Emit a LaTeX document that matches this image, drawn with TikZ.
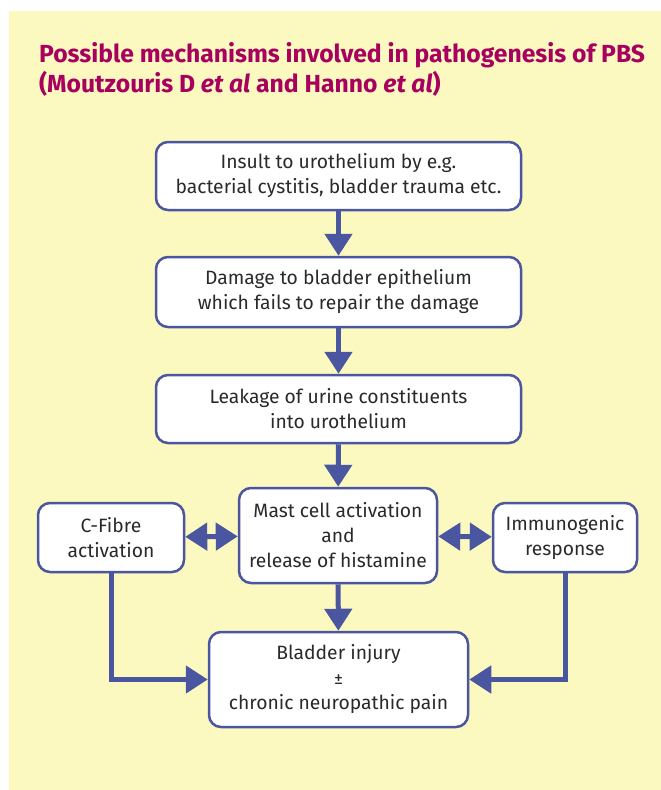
\documentclass[tikz,border=0pt]{standalone}
\usepackage{fontspec}
\setmainfont{Fira Sans}
\usetikzlibrary{arrows.meta}
\definecolor{bgyellow}{HTML}{FCF9C0}
\definecolor{boxblue}{HTML}{4B56A0}
\definecolor{titlepink}{HTML}{A8005F}
\definecolor{txt}{HTML}{2B2A29}
\tikzset{
  flowbox/.style={draw=boxblue, line width=2.5pt, fill=white, rounded corners=12pt,
    align=center, text=txt, font=\fontsize{19.3}{25}\selectfont, inner sep=0pt},
  flowarrow/.style={draw=boxblue, line width=5pt, -{Triangle[length=22pt,width=27pt]}},
  botharrow/.style={draw=boxblue, line width=5pt, {Triangle[length=22pt,width=27pt]}-{Triangle[length=22pt,width=27pt]}},
  titletext/.style={anchor=base west, text=titlepink, font=\fontsize{24.7}{29}\selectfont\bfseries, inner sep=0pt}
}
\begin{document}
\begin{tikzpicture}[x=1pt,y=-1pt]
\useasboundingbox (0,0) rectangle (661,790);
\fill[bgyellow] (9,11) rectangle (661,790);
\node[titletext] (t1) at (39,62) {Possible mechanisms involved in pathogenesis of PBS};
\node[titletext] (t2) at (39,92) {(Moutzouris D \textit{et al} and Hanno \textit{et al})};

\node[flowbox, minimum width=365pt, minimum height=68pt] (b1) at (338.5,176) {Insult to urothelium by e.g.\\bacterial cystitis, bladder trauma etc.};
\node[flowbox, minimum width=365pt, minimum height=70pt] (b2) at (338.5,292) {Damage to bladder epithelium\\which fails to repair the damage};
\node[flowbox, minimum width=365pt, minimum height=68pt] (b3) at (338.5,409) {Leakage of urine constituents\\into urothelium};
\node[flowbox, minimum width=198pt, minimum height=95pt] (b4) at (338,535.5) {Mast cell activation\\and\\release of histamine};
\node[flowbox, minimum width=146pt, minimum height=69pt] (cf) at (111,537.5) {C-Fibre\\activation};
\node[flowbox, minimum width=144pt, minimum height=69pt] (im) at (565,537.5) {Immunogenic\\response};
\node[flowbox, minimum width=259pt, minimum height=95pt] (b5) at (338.5,679.5) {Bladder injury\\{\fontsize{18}{25}\selectfont ±}\\chronic neuropathic pain};

\draw[flowarrow] (b1) -- (b2);
\draw[flowarrow] (b2) -- (b3);
\draw[flowarrow] (b3) -- (b4);
\draw[flowarrow] (b4) -- (b5);
\draw[botharrow] (cf) -- (b4);
\draw[botharrow] (b4) -- (im);
\draw[flowarrow] (cf.south) |- (b5.west);
\draw[flowarrow] (im.south) |- (b5.east);
\end{tikzpicture}
\end{document}
